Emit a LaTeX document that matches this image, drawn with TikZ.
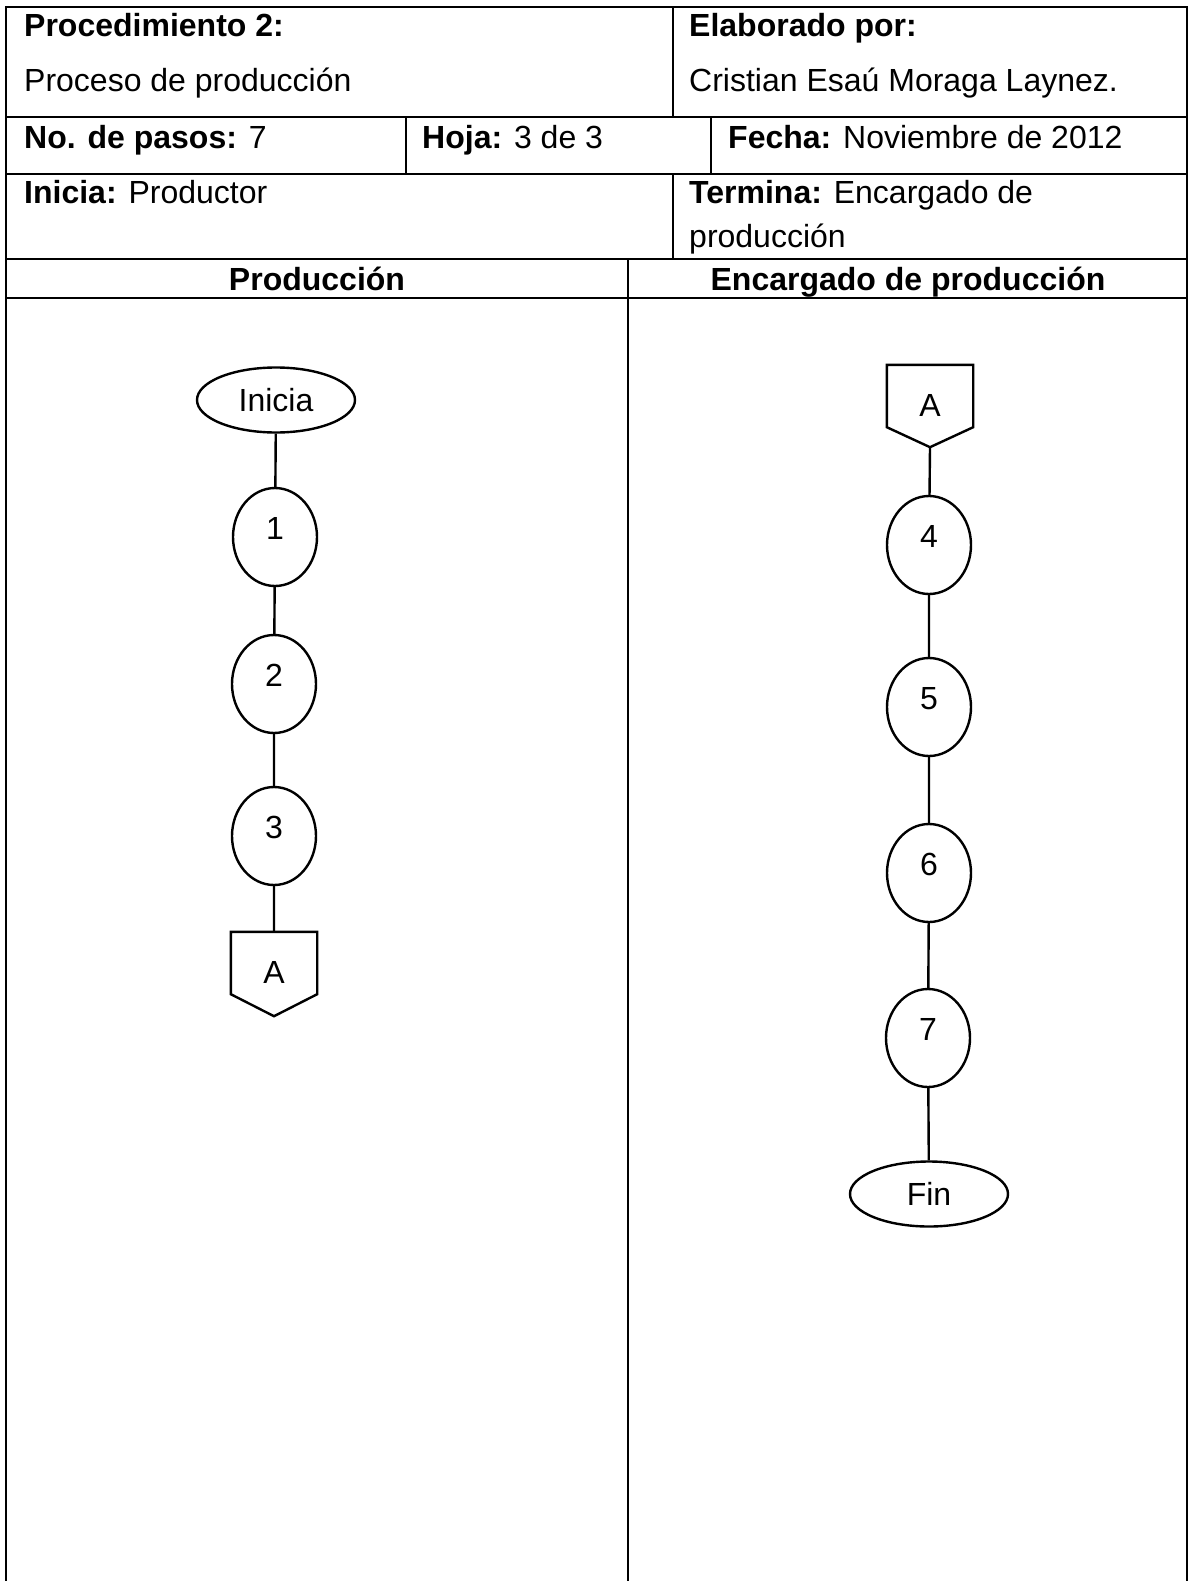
\documentclass[tikz,border=0pt]{standalone}
\usepackage{fontspec}
\setmainfont{Liberation Sans}
\usetikzlibrary{shapes.geometric}
\begin{document}
\begin{tikzpicture}[x=1pt,y=-1pt,line width=2.4pt,font=\fontsize{32}{38}\selectfont,
                celda/.style={anchor=base west,inner sep=0pt},
                titulo/.style={anchor=base,inner sep=0pt,font=\fontsize{32}{38}\selectfont\bfseries},
                paso/.style={draw,ellipse,minimum width=84pt,minimum height=98pt,inner sep=0pt,text depth=18pt},
                limite/.style={draw,ellipse,minimum width=158pt,minimum height=65pt,inner sep=0pt},
                conector/.style={minimum width=84pt,minimum height=60pt,inner sep=0pt,text height=40pt,text depth=0pt}]
                \useasboundingbox (0,0) rectangle (1190,1581);
                \draw (6,1581) -- (6,7) -- (1187,7) -- (1187,1581);
                \foreach \y in {117,174,259,298} \draw (6,\y) -- (1187,\y);
                \draw (673,7) -- (673,117) (406,117) -- (406,174) (711,117) -- (711,174) (673,174) -- (673,259) (628,259) -- (628,1581);
                \node[celda] (proc) at (23,37) {\textbf{Procedimiento 2:}};
                \node[celda] (nombre) at (23,92) {Proceso de producción};
                \node[celda] (elab) at (688,37) {\textbf{Elaborado por:}};
                \node[celda] (autor) at (688,92) {Cristian Esaú Moraga Laynez.};
                \node[celda] (pasos) at (23,149) {\textbf{No. de pasos:} 7};
                \node[celda] (hoja) at (421,149) {\textbf{Hoja:} 3 de 3};
                \node[celda] (fecha) at (727,149) {\textbf{Fecha:} Noviembre de 2012};
                \node[celda] (inicia) at (23,204) {\textbf{Inicia:} Productor};
                \node[celda] (termina) at (688,204) {\textbf{Termina:} Encargado de};
                \node[celda] (termina2) at (688,247) {producción};
                \node[titulo] (prod) at (317,290) {Producción};
                \node[titulo] (encargado) at (908,290) {Encargado de producción};
                \node[limite] (ini) at (276,400) {Inicia};
                \node[paso] (p1) at (275,537) {1};
                \node[paso] (p2) at (274,684) {2};
                \node[paso] (p3) at (274,836) {3};
                \node[conector] (a1) at (274,963) {A};
                \draw (a1.north west) -- (a1.north east) -- (a1.south east) -- ([yshift=-22pt]a1.south) -- (a1.south west) -- cycle;
                \draw (ini) -- (p1) (p1) -- (p2) (p2) -- (p3) (p3) -- (a1);
                \node[conector] (a2) at (930,396) {A};
                \draw (a2.north west) -- (a2.north east) -- (a2.south east) -- ([yshift=-20pt]a2.south) coordinate (a2p) -- (a2.south west) -- cycle;
                \node[paso] (p4) at (929,545) {4};
                \node[paso] (p5) at (929,707) {5};
                \node[paso] (p6) at (929,873) {6};
                \node[paso] (p7) at (928,1038) {7};
                \node[limite] (fin) at (929,1194) {Fin};
                \draw (a2p) -- (p4) (p4) -- (p5) (p5) -- (p6) (p6) -- (p7) (p7) -- (fin);
\end{tikzpicture}
\end{document}
